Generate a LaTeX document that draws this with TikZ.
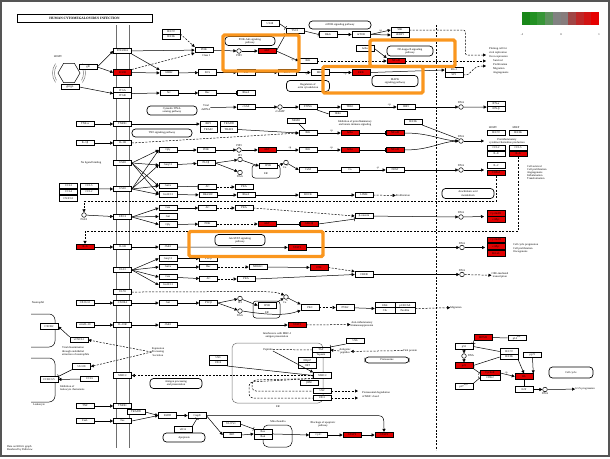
\documentclass[tikz,border=0pt]{standalone}
\usepackage{fontspec}
\setmainfont{Liberation Serif}
\usepackage{tikz}
\usetikzlibrary{positioning,arrows.meta,shapes.geometric,calc}
\definecolor{KeggRed}{RGB}{225,0,0}
\definecolor{HiOrange}{RGB}{250,150,30}
\definecolor{FrameGray}{RGB}{85,85,85}
\definecolor{MembGray}{RGB}{110,110,110}
\definecolor{LegA}{RGB}{25,135,25}
\definecolor{LegB}{RGB}{35,145,35}
\definecolor{LegC}{RGB}{55,150,55}
\definecolor{LegD}{RGB}{95,145,95}
\definecolor{LegE}{RGB}{130,130,130}
\definecolor{LegF}{RGB}{135,125,125}
\definecolor{LegG}{RGB}{160,70,70}
\definecolor{LegH}{RGB}{190,40,40}
\definecolor{LegI}{RGB}{210,20,20}
\definecolor{LegJ}{RGB}{230,0,0}
\newcommand{\gfont}{\fontsize{2.8}{3.2}\selectfont}

\begin{document}
\begin{tikzpicture}[x=1pt, y=-1pt,
    gene/.style={rectangle, draw=black, fill=white, line width=0.6pt,
                 minimum width=18pt, minimum height=5.5pt, inner sep=0pt, font=\gfont},
    hit/.style={gene, fill=KeggRed},
    pway/.style={rectangle, draw=black, fill=white, rounded corners=3.5pt, line width=0.7pt,
                 inner sep=0.5pt, align=center, font=\gfont},
    cpd/.style={circle, draw=black, fill=white, minimum size=4.6pt, inner sep=0pt, line width=0.5pt},
    note/.style={font=\gfont, inner sep=0pt, align=center},
    arrow/.style={-{Triangle[length=3pt, width=3pt]}, line width=0.5pt},
    darrow/.style={arrow, dash pattern=on 2pt off 1.4pt},
    dline/.style={line width=0.5pt, dash pattern=on 2pt off 1.4pt},
    inhib/.style={-{Bar[width=4pt]}, line width=0.5pt},
    plink/.style={line width=0.5pt},
    hilite/.style={draw=HiOrange, line width=3.2pt, rounded corners=1.5pt}
]
    \useasboundingbox (0,0) rectangle (610,458);
    \draw[FrameGray, line width=1.5pt] (1,1) rectangle (609,456);

    \node[draw, line width=0.6pt, minimum width=135pt, minimum height=8pt, inner sep=0pt,
          font=\fontsize{3.4}{4}\selectfont\bfseries] (title) at (84.5,18) {HUMAN CYTOMEGALOVIRUS INFECTION};

    \draw[MembGray, line width=0.6pt] (116,25) -- (116,448);
    \draw[MembGray, line width=0.6pt] (129,25) -- (129,448);
    \draw[dline, line width=0.6pt] (436,25) -- (436,450);

    \foreach \c [count=\i from 0] in {LegA,LegB,LegC,LegD,LegE,LegF,LegG,LegH,LegI,LegJ}
        \fill[\c] (522+7.7*\i,12) rectangle ++(7.7,13);
    \node[note] (legmin) at (522,35) {-1};
    \node[note] (legmid) at (561,35) {0};
    \node[note] (legmax) at (599,35) {1};

    \node[note] (hcmv) at (58,57) {HCMV};
    \node[regular polygon, regular polygon sides=6, draw, minimum size=22pt, inner sep=0pt,
          line width=0.5pt] (virion) at (69,73) {};
    \draw[MembGray, line width=0.45pt] (virion.center) ++(150:14.5) arc (150:210:14.5);
    \draw[MembGray, line width=0.45pt] (virion.center) ++(145:16.5) arc (145:215:16.5);
    \draw[MembGray, line width=0.45pt] (virion.center) ++(-30:14.5) arc (-30:30:14.5);
    \draw[MembGray, line width=0.45pt] (virion.center) ++(-35:16.5) arc (-35:35:16.5);

    \node[gene] (gB)     at (88,67)      {gB};
    \node[gene] (gHgL)   at (70,87)      {gH/gL};
    \node[gene] (pdgfra) at (122.5,51)   {PDGFRA};
    \node[hit]  (egfr)   at (122.5,72.5) {EGFR};
    \node[gene] (itga)   at (122.5,90.5) {ITGA};
    \node[gene] (itgb)   at (122.5,95.5) {ITGB};
    \node[gene] (ie72)   at (171,32)     {IE1/72};
    \node[gene] (ie86)   at (171,37)     {IE2/86};

    \node[gene] (pi3k)   at (204,50)     {PI3K};
    \node[note] (class1) at (206,55.5)   {Class I};
    \node[cpd, label={[note, label distance=0.4pt]below:PIP3}] (pip3) at (239,51) {};
    \node[hit]  (akt)    at (267,51)     {AKT};
    \node[pway, minimum width=50pt, minimum height=9pt] (pakt) at (250,41) {PI3K-Akt signaling\\pathway};
    \node[gene] (ul38)   at (270,23.5)   {UL38};
    \node[gene] (tsc2)   at (295,31)     {TSC2};
    \node[pway, minimum width=62pt, minimum height=8pt] (pmtor) at (340,25) {mTOR signaling pathway};
    \node[gene] (rheb)   at (328,34.5)   {Rheb};
    \node[gene] (mtor)   at (361,34.5)   {mTOR};
    \node[gene] (s6k)    at (400,30)     {S6K};
    \node[gene] (ebp1)   at (400,35)     {4EBP1};
    \node[gene] (ikkA)   at (308,61)     {IKK};
    \node[gene] (ikbaA)  at (365,48.5)   {IκBα};
    \node[pway, minimum width=46pt, minimum height=10pt] (pnfkb) at (410,51) {NF-kappa B signaling\\pathway};
    \node[hit]  (nfkbA)  at (396,61)     {NF-κB};

    \node[gene] (grb2)   at (169,73)     {GRB2};
    \node[gene] (sos)    at (207.5,72.5) {SOS};
    \node[gene] (ras)    at (246,72.5)   {Ras};
    \node[gene] (raf1)   at (287,72.5)   {Raf-1};
    \node[gene] (mek)    at (320,72.5)   {MEK};
    \node[hit]  (erk)    at (361,72.5)   {ERK};
    \node[pway, minimum width=46pt, minimum height=11pt] (pmapk) at (395,81) {MAPK\\signaling pathway};
    \node[gene] (elk1)   at (454,70)     {Elk-1};
    \node[gene] (sp1)    at (454,75)     {SP1};
    \node[gene] (src)    at (169,93)     {Src};
    \node[gene] (rac)    at (207.5,93)   {Rac};
    \node[gene] (rhoa)   at (246,93)     {RhoA};
    \node[pway, minimum width=43pt, minimum height=11pt] (pactin) at (308,86) {Regulation of\\actin cytoskeleton};
    \node[pway, minimum width=50pt, minimum height=9pt] (pcgas) at (172,110.5) {Cytosolic DNA-\\sensing pathway};

    \coordinate (primA) at (486,55);
    \coordinate (primB) at (486,61);
    \coordinate (primC) at (486,66);
    \node[note, align=left, anchor=north west, font=\fontsize{2.8}{4}\selectfont] (fate) at (489,47)
        {Priming cell for\\viral replication\\Over-expression\\\hspace*{4pt}Survival\\\hspace*{4pt}Proliferation\\\hspace*{4pt}Migration\\\hspace*{4pt}Angiogenesis};

    \node[note] (dsdna)  at (206,107.5)  {Viral\\dsDNA};
    \node[gene] (cgas)   at (246,107)    {cGAS};
    \node[cpd, label={[note, label distance=0.4pt]below:cGAMP}] (cgamp) at (280,107) {};
    \node[gene] (sting)  at (308,107)    {STING};
    \node[gene] (tbk1)   at (350,107)    {TBK1};
    \node[gene] (ikke)   at (338,114)    {IKKε};
    \node[gene] (irf3)   at (406,107)    {IRF3};
    \node[cpd, label={[note, label distance=0.4pt]above:DNA}] (dnaA) at (461,107) {};
    \node[gene] (ifna)   at (496,104)    {IFN-α};
    \node[gene] (ifnb)   at (496,109)    {IFN-β};

    \draw[arrow] (gB.east) -- (pdgfra.west);
    \draw[arrow] (gB.east) -- (egfr.west);
    \draw[arrow] (gHgL.east) -- (itga.south west);
    \draw[arrow] (pdgfra) -- (pi3k);
    \draw[darrow] (egfr.north east) -- (pi3k.south west);
    \draw[darrow] (ie86.north east) -- (pi3k.north west);
    \draw[arrow] (pi3k) -- (pip3);
    \draw[arrow] (pip3) -- (akt);
    \draw[inhib] (akt.east) -- (tsc2.south west);
    \draw[inhib] (ul38.east) -- (tsc2.north west);
    \draw[inhib] (tsc2.east) -- (rheb.west);
    \draw[arrow] (rheb) -- (mtor);
    \draw[arrow] (mtor.east) -- node[note, above=0.4pt, pos=0.5] {+p} (s6k.west);
    \draw[arrow] (mtor.east) -- (ebp1.west);
    \draw[arrow] (akt.east) -- node[note, below left=0.2pt, pos=0.8] {+p} (ikkA.west);
    \draw[darrow] (ikkA) -- (nfkbA);
    \draw[arrow] (ikbaA.east) -- (nfkbA.north west);
    \draw[darrow] (nfkbA.east) -- (primB);
    \draw[darrow, rounded corners=2pt] (s6k.east) -- ++(56,0) |- (primA);
    \draw[darrow] (sp1.east) .. controls (473,76) and (470,66) .. (primC);
    \draw[arrow] (egfr) -- (grb2);
    \draw[arrow] (pdgfra.south east) -- (grb2.north west);
    \draw[arrow] (grb2) -- (sos);
    \draw[arrow] (sos) -- (ras);
    \draw[arrow] (ras) -- (raf1);
    \draw[arrow] (raf1) -- node[note, below=0.6pt, pos=0.7] {+p} (mek);
    \draw[arrow] (mek) -- node[note, below=0.6pt, pos=0.7] {+p} (erk);
    \draw[arrow] (erk.east) -- (elk1.west);
    \draw[arrow] (itga.south east) -- (src.west);
    \draw[arrow] (src) -- (rac);
    \draw[inhib] (rac) -- (rhoa);
    \draw[arrow] (dsdna) -- (cgas);
    \draw[arrow] (cgas) -- (cgamp);
    \draw[arrow] (cgamp) -- (sting);
    \draw[arrow] (sting) -- (tbk1);
    \draw[plink] (sting.south east) -- (ikke.west);
    \draw[arrow] (tbk1) -- node[note, above=0.4pt, pos=0.8] {+p} (irf3);
    \draw[arrow] (irf3) -- (dnaA);
    \draw[arrow] (dnaA) -- (ifna.south west);

    \node[gene] (tnfa)   at (85,124)     {TNF-α};
    \node[gene] (tnfr1)  at (122.5,124)  {TNFR1};
    \node[gene, minimum width=17pt] (rip1)  at (208.5,124)   {RIP1};
    \node[gene, minimum width=17pt] (tradd) at (229,124)     {TRADD};
    \node[gene, minimum width=17pt] (traf2) at (208.5,129.5) {TRAF2};
    \node[gene, minimum width=17pt] (traf5) at (229,129.5)   {TRAF5};
    \node[pway, minimum width=60pt, minimum height=8pt] (ptnf) at (162,133) {TNF signaling pathway};
    \node[gene] (il1b)   at (85,143)     {IL-1β};
    \node[gene] (il1r)   at (122.5,143)  {IL-1R};
    \node[gene] (nemo)   at (296,121)    {NEMO};
    \node[gene] (ikkB)   at (308,133)    {IKK};
    \node[hit]  (ikbaB)  at (350,133)    {IκBα};
    \node[hit]  (nfkbB)  at (395,133)    {NF-κB};
    \node[note] (inhibtxt) at (355,123)  {Inhibition of proinflammatory\\and innate immune signaling};
    \node[gene] (ie86b)  at (413,122)    {IE2/86};

    \node[gene] (gq1)    at (168,150)    {Gβγ};
    \node[gene] (pi3kB)  at (206,150)    {PI3K};
    \node[cpd, label={[note, label distance=0.4pt]above:PIP3}] (pip3B) at (239,150) {};
    \node[hit]  (aktB)   at (267,150)    {AKT};
    \node[gene] (ikkC)   at (308,150)    {IKK};
    \node[hit]  (ikbaC)  at (350,150)    {IκBα};
    \node[hit]  (nfkbC)  at (395,150)    {NF-κB};
    \node[cpd, label={[note, label distance=0.4pt]above:DNA}] (dnaB) at (461,141) {};
    \coordinate (genesB) at (484,141);
    \node[note] (hcmvhdr) at (493,127.5) {HCMV};
    \node[note] (miephdr) at (516,127.5) {MIEP};
    \node[gene] (ie1n)   at (496,133)    {IE1/72};
    \node[gene] (ie2n)   at (518,133)    {IE2/86};
    \node[note] (proinf) at (507,141)    {Proinflammatory\\cytokine/chemokine production};
    \node[gene] (ccl2n)  at (496,148)    {CCL2};
    \node[gene] (ccl5n)  at (518,148)    {CCL5};
    \node[gene] (il8n)   at (496,154)    {IL-8};
    \node[hit]  (il6n)   at (518,154)    {IL-6};
    \node[note, align=left, anchor=north west] (survival) at (527,165)
        {Cell survival\\Cell proliferation\\Angiogenesis\\Inflammation\\Transformation};

    \draw[arrow] (tnfa) -- (tnfr1);
    \draw[arrow] (tnfr1) -- (rip1);
    \draw[arrow] (traf5.east) -- (ikkB.west);
    \draw[plink] (nemo) -- (ikkB);
    \draw[arrow] (il1b) -- (il1r);
    \draw[darrow] (il1r.east) -- (ikkB.west);
    \draw[arrow] (ikkB) -- node[note, above=0.4pt, pos=0.6] {+p} (ikbaB);
    \draw[inhib] (ikbaB) -- (nfkbB);
    \draw[arrow] (gq1) -- (pi3kB);
    \draw[arrow] (pi3kB) -- (pip3B);
    \draw[arrow] (pip3B) -- (aktB);
    \draw[arrow] (aktB) -- node[note, above=0.4pt, pos=0.6] {+p} (ikkC);
    \draw[arrow] (ikkC) -- node[note, above=0.4pt, pos=0.6] {+p} (ikbaC);
    \draw[inhib] (ikbaC) -- (nfkbC);
    \draw[arrow] (nfkbB.east) .. controls (430,133) and (440,140) .. (dnaB.west);
    \draw[arrow] (nfkbC.east) .. controls (430,150) and (440,142) .. (dnaB.west);
    \draw[plink] (ie86b.south east) -- (dnaB.north west);
    \draw[arrow] (dnaB) -- (genesB);

    \node[note] (noligand) at (91,163)   {No ligand binding};
    \node[gene] (us28a)  at (122.5,163)  {US28};
    \node[gene] (us28b)  at (122.5,189)  {US28};
    \node[gene] (ccl3)   at (68.5,186)   {CCL3};
    \node[gene] (ccl5)   at (89,186)     {CCL5};
    \node[gene] (ccl4)   at (68.5,192)   {CCL4};
    \node[gene] (ccl2)   at (89,192)     {CCL2};
    \node[gene] (cx3cl1) at (68.5,198.5) {CX3CL1};
    \node[gene] (gq2)    at (168,165)    {Gαq/11};
    \node[gene] (gi1)    at (168,186)    {Gαi/o};
    \node[gene] (g12)    at (168,194.5)  {Gα12/13};
    \node[gene] (plc1)   at (206,163)    {PLCβ};
    \node[cpd, label={[note, label distance=0.4pt]above:IP3}] (ip3A) at (240,159.5) {};
    \node[cpd, label={[note, label distance=0.4pt]below:DAG}] (dagA) at (240,172.5) {};
    \draw[plink, rounded corners=3pt] (252,165) rectangle (280,178);
    \node[gene] (ip3rA)  at (268,166)    {IP3R};
    \node[note] (erA)    at (266,174)    {ER};
    \node[cpd, label={[note, label distance=0.4pt]below:{Ca\textsuperscript{2+}}}] (caA) at (286,162.5) {};
    \node[gene] (cam)    at (308,170)    {CaM};
    \node[gene] (cn)     at (350,170)    {Cn};
    \node[gene] (nfat)   at (395,170)    {NFAT};
    \node[cpd, label={[note, label distance=0.4pt]above:DNA}] (dnaC) at (461,170) {};
    \coordinate (genesC) at (484,170);
    \node[gene] (il2)    at (496,165.5)  {IL-2};
    \node[hit]  (cox2)   at (496,173)    {COX-2};
    \node[pway, minimum width=52pt, minimum height=10pt] (parach) at (468,193.5) {Arachidonic acid\\metabolism};
    \node[gene] (ac1)    at (207.5,187)  {AC};
    \node[gene] (pka1)   at (244,187)    {PKA};
    \node[gene] (rhogef) at (208,195)    {RhoGEF};
    \node[gene] (rhoB)   at (246,195)    {RhoA};
    \node[gene] (rock)   at (308,195)    {ROCK};
    \node[gene] (limk)   at (364,195)    {LIMK};
    \node[note] (prolif) at (403,195.5)  {Proliferation};

    \foreach \g in {gq1,gq2,gi1,g12} {
        \draw[arrow] (us28a.east) -- (\g.west);
        \draw[arrow] (us28b.east) -- (\g.west);
    }
    \draw[arrow] (ccl2.north east) -- (us28b.west);
    \draw[arrow] (gq2) -- (plc1);
    \draw[arrow] (plc1.east) -- (ip3A);
    \draw[arrow] (plc1.east) -- (dagA);
    \draw[arrow] (ip3A) -- (ip3rA.west);
    \draw[arrow] (ip3rA.east) -- (caA);
    \draw[arrow] (caA) -- (cam.west);
    \draw[plink] (cam) -- (cn);
    \draw[arrow] (cn) -- node[note, above=0.4pt, pos=0.7] {-p} (nfat);
    \draw[arrow] (nfat) -- (dnaC);
    \draw[arrow] (dnaC) -- (genesC);
    \draw[inhib] (gi1) -- (ac1);
    \draw[darrow] (ac1) -- (pka1);
    \draw[arrow] (g12) -- (rhogef);
    \draw[arrow] (rhogef) -- (rhoB);
    \draw[arrow] (rhoB) -- (rock);
    \draw[arrow] (rock) -- (limk);
    \draw[darrow] (limk) -- (prolif);

    \node[cpd, label={[note, label distance=0.4pt]below:PGE2}] (pge2) at (84,215) {};
    \node[gene] (ep24)   at (122.5,217)  {EP2/4};
    \node[gene] (gsA)    at (168,208)    {Gαs};
    \node[gene] (giA)    at (168,216.5)  {Gαi};
    \node[gene] (gbgB)   at (168,224.5)  {Gβγ};
    \node[gene] (ac2)    at (207.5,208)  {AC};
    \node[gene] (pka2)   at (244,208)    {PKA};
    \node[gene] (ctnnb)  at (364,216)    {β-catenin};
    \node[gene] (pi3kC)  at (207.5,224)  {PI3K};
    \node[hit]  (aktC)   at (267,224)    {AKT};
    \node[hit]  (gsk)    at (309,224)    {GSK3β};
    \node[cpd, label={[note, label distance=0.4pt]above:DNA}] (dnaD) at (461,217) {};
    \coordinate (genesD) at (484,216.5);
    \node[hit]  (ccnd1)  at (496,213.5)  {CyclinD1};
    \node[hit]  (myc)    at (496,219.5)  {c-Myc};

    \draw[darrow] (cox2.south) -- ++(0,25.5) -| (pge2.north);
    \draw[arrow] (pge2) -- (ep24);
    \foreach \g in {gsA,giA,gbgB}
        \draw[arrow] (ep24.east) -- (\g.west);
    \draw[arrow] (gsA) -- (ac2);
    \draw[darrow] (ac2) -- (pka2);
    \draw[darrow] (pka2.east) -- (ctnnb.west);
    \draw[arrow] (gbgB) -- (pi3kC);
    \draw[darrow] (pi3kC) -- (aktC);
    \draw[inhib] (aktC) -- (gsk);
    \draw[inhib] (gsk.east) -- (ctnnb.south west);
    \draw[arrow] (ctnnb) -- (dnaD);
    \draw[arrow] (dnaD) -- (genesD);

    \node[hit]  (il6)    at (85,247)     {IL-6};
    \node[gene] (il6r)   at (122.5,247)  {IL-6R};
    \node[gene] (jak1)   at (168,247)    {JAK1};
    \node[pway, minimum width=50pt, minimum height=11pt] (pjak) at (240,240) {Jak-STAT signaling\\pathway};
    \node[hit]  (stat3)  at (297,247.5)  {STAT3};
    \node[cpd, label={[note, label distance=0.4pt]above:DNA}] (dnaE) at (462,247.5) {};
    \coordinate (genesE) at (485,247.5);
    \node[hit]  (ccnd1b) at (496,240)    {CyclinD1};
    \node[hit]  (mycb)   at (496,246.5)  {c-Myc};
    \node[hit]  (bclxl)  at (496,253.5)  {Bcl-xL};
    \node[note, align=left, anchor=west] (cycletxt) at (513,248.5) {Cell cycle progression\\Cell proliferation\\Oncogenesis};

    \draw[darrow] (il6n.south) -- ++(0,74.5) -| (il6.north);
    \draw[arrow] (il6) -- (il6r);
    \draw[arrow] (il6r) -- (jak1);
    \draw[arrow] (jak1) -- (stat3);
    \draw[arrow] (stat3) -- (dnaE);
    \draw[arrow] (dnaE) -- (genesE);

    \node[gene] (ul33)   at (122.5,270)  {UL33};
    \node[gene] (gqB)    at (168,258.5)  {Gαq/11};
    \node[gene] (giB)    at (168,267)    {Gαi/o};
    \node[gene] (gsB)    at (168,277)    {Gαs};
    \node[gene] (g12B)   at (168,285)    {Gα12/13};
    \node[gene] (plcB)   at (208.5,258.5) {PLCβ};
    \node[gene] (racB)   at (208.5,267)  {Rac};
    \node[gene] (mekk)   at (258,267)    {MEKK1};
    \node[hit]  (jnk)    at (319,267.5)  {JNK};
    \node[gene] (ac3)    at (208.5,279)  {AC};
    \node[gene] (pka3)   at (246,279)    {PKA};
    \node[gene] (creb)   at (364,274.5)  {CREB};
    \node[cpd, label={[note, label distance=0.4pt]above:DNA}] (dnaF) at (462,274.5) {};
    \node[note] (cre)    at (500,275.5)  {CRE-mediated\\transcription};

    \foreach \g in {gqB,giB,gsB,g12B}
        \draw[arrow] (ul33.east) -- (\g.west);
    \draw[arrow] (gqB) -- (plcB);
    \draw[arrow] (giB) -- (racB);
    \draw[darrow] (racB) -- (mekk);
    \draw[arrow] (mekk) -- (jnk);
    \draw[darrow] (jnk.east) -- (creb.north west);
    \draw[arrow] (gsB) -- (ac3);
    \draw[darrow] (ac3) -- (pka3);
    \draw[arrow] (pka3.east) -- (creb.west);
    \draw[arrow] (creb) -- (dnaF);
    \draw[darrow] (dnaF) -- (cre);

    \node[gene] (ul78)   at (122.5,292)  {UL78};
    \node[gene] (cxcl12) at (85,303)     {CXCL12};
    \node[gene] (cxcr4)  at (122.5,303)  {CXCR4};
    \node[gene] (giC)    at (168,303)    {Gαi};
    \node[gene] (plcC)   at (208.5,303)  {PLCβ};
    \node[cpd, label={[note, label distance=0.4pt]below:IP3}] (ip3B) at (240,298.5) {};
    \node[cpd, label={[note, label distance=0.4pt]below:DAG}] (dagB) at (240,311) {};
    \draw[plink, rounded corners=3pt] (253,301) rectangle (280,318);
    \node[gene] (ip3rB)  at (267,305.5)  {IP3R};
    \node[note] (erB)    at (267,313)    {ER};
    \node[cpd, label={[note, label distance=0.4pt]below:{Ca\textsuperscript{2+}}}] (caB) at (286,297) {};
    \node[gene] (pkc)    at (310,307.5)  {PKC};
    \node[gene] (pyk2)   at (345,307.5)  {PYK2};
    \node[gene, minimum width=20pt] (fak)  at (385,305.5) {FAK};
    \node[gene, minimum width=20pt] (p130) at (405,305.5) {p130CAS};
    \node[gene, minimum width=20pt] (crk)  at (385,310.5) {Crk};
    \node[gene, minimum width=20pt] (pax)  at (405,310.5) {Paxillin};
    \node[note] (migr)   at (456,307.5)  {Migration};

    \draw[darrow] (ul78.east) .. controls (255,292) and (272,290) .. (caB.north west);
    \draw[arrow] (cxcl12) -- (cxcr4);
    \draw[arrow] (cxcr4) -- (giC);
    \draw[arrow] (giC) -- (plcC);
    \draw[arrow] (plcC.east) -- (ip3B);
    \draw[arrow] (plcC.east) -- (dagB);
    \draw[arrow] (ip3B) -- (ip3rB.west);
    \draw[arrow] (ip3rB.north east) -- (caB);
    \draw[arrow] (caB) -- (pkc.north west);
    \draw[arrow] (dagB.east) .. controls (285,318) and (295,312) .. (pkc.south west);
    \draw[darrow] (pkc) -- (pyk2);
    \draw[arrow] (pyk2) -- (fak.south west);
    \draw[darrow] (p130.south east) -- (migr);

    \node[note] (neutro) at (38,302.5)   {Neutrophil};
    \draw[plink, rounded corners=6pt] (31,314) -- (55,314) -- (55,347) -- (31,347);
    \node[gene] (cxcr2)  at (49,326.5)   {CXCR2};
    \node[gene] (cmvil10) at (85,325)    {cmvIL-10};
    \node[gene] (il10r)  at (122.5,325)  {IL-10R};
    \node[gene] (jak1B)  at (168,325)    {JAK1};
    \node[hit]  (stat3B) at (297,325)    {STAT3};
    \node[note] (antiinf) at (362,324.5) {Anti-inflammatory\\Immunosuppression};
    \node[gene] (vcxcl1) at (79,340)     {vCXCL1};
    \node[note] (mhcinterf) at (277,335.5) {Interference with MHC-I\\antigen presentation};

    \draw[arrow] (cmvil10) -- (il10r);
    \draw[arrow] (il10r) -- (jak1B);
    \draw[arrow] (jak1B) -- (stat3B);
    \draw[darrow] (stat3B) -- (antiinf);
    \draw[arrow] (vcxcl1.north west) -- (cxcr2.east);

    \node[note, align=left, anchor=west] (dissem) at (62,351.5) {Viral dissemination\\through endothelial\\attraction of neutrophils};
    \node[note] (expr)   at (158,352)    {Expression\\Processing\\Secretion};
    \draw[plink, rounded corners=6pt] (31,358) -- (55,358) -- (55,402) -- (31,402);
    \node[gene] (ul128)  at (81.5,366.5) {UL128};
    \node[gene] (ccl5c)  at (89.5,379)   {CCL5};
    \node[gene] (ccr)    at (49,379.5)   {CCR1/3/5};
    \node[note, align=left, anchor=north west] (leuinh) at (60,385) {Inhibition of\\leukocyte chemotaxis};
    \node[note] (leuko)  at (39,405)     {Leukocyte};
    \node[gene] (mhc1)   at (122.5,375.5) {MHC-I};
    \node[pway, minimum width=52pt, minimum height=10pt] (pantigen) at (176,383.5) {Antigen processing\\and presentation};

    \draw[darrow] (expr.west) -- (vcxcl1.east);
    \draw[darrow] (expr.west) -- (ul128.east);
    \draw[arrow] (ccl5c) -- (ccr);
    \draw[inhib] (ul128.south west) -- (ccr.north east);

    \draw[plink, MembGray, rounded corners=5pt] (232,343) rectangle (323,403);
    \node[note] (ertxt)  at (278,406.5)  {ER};
    \node[gene] (us6)    at (355,341)    {US6};
    \node[note] (peptides) at (268,349.5) {Peptides};
    \node[gene] (tap)    at (321,350)    {TAP};
    \node[gene] (tapasin) at (321,355)   {Tapasin};
    \node[note] (antigenic) at (345,351.5) {Antigenic\\peptides};
    \node[note] (vprot)  at (410,350.5)  {Viral protein};
    \node[pway, minimum width=44pt, minimum height=6pt] (pprot) at (387,360) {Proteasome};
    \node[gene] (erp57)  at (307.5,360.5) {ERp57};
    \node[gene] (crt)    at (307.5,365.5) {CRT};
    \node[gene] (mhc2)   at (322.5,375.5) {MHC-I};
    \node[gene] (b2m)    at (309,383)    {β2M};
    \node[gene] (us2)    at (322,391)    {US2};
    \node[gene] (us11)   at (322,398)    {US11};
    \node[gene] (us3)    at (218,358)    {US3};
    \node[gene] (us10)   at (218,363)    {US10};
    \coordinate (degA) at (358,391);
    \coordinate (degB) at (358,398);
    \node[note, align=left, anchor=west] (degtxt) at (362,394.5) {Proteasomal degradation\\of MHC class I};

    \draw[dline] (peptides) -- (tap);
    \draw[arrow] (peptides.south east) -- (mhc2.north west);
    \draw[inhib] (us6.south west) -- (tap.north east);
    \draw[darrow] (antigenic) -- (tap.east);
    \draw[darrow] (vprot) -- (antigenic);
    \draw[inhib] (us10.south east) -- (mhc2.west);
    \draw[darrow] (mhc2.west) -- (mhc1.east);
    \draw[dline, rounded corners=4pt] (mhc2.south west) -- (252,380) -- (252,391) -- (us2.west);
    \draw[dline, rounded corners=4pt] (mhc2.south west) -- (249,382) -- (249,398) -- (us11.west);
    \draw[darrow] (us2.east) -- (degA);
    \draw[darrow] (us11.east) -- (degB);

    \node[gene] (tnfB)   at (85,406)     {TNF};
    \node[gene] (tnfrB)  at (122.5,406)  {TNFR1};
    \node[gene] (traddB) at (136,412)    {TRADD};
    \node[gene] (fasl)   at (85,421)     {FasL};
    \node[gene] (fas)    at (122.5,421)  {Fas};
    \node[gene] (fadd)   at (167.5,415.5) {FADD};
    \node[gene] (casp8)  at (197,415.5)  {Casp8};
    \node[gene] (vica)   at (183,429.5)  {vICA};
    \node[pway, minimum width=42pt, minimum height=9pt] (papop) at (184,437.5) {Apoptosis};
    \node[gene] (ul37)   at (231,424)    {UL37x1};
    \node[gene] (bid)    at (232,435)    {BID};
    \draw[plink, rounded corners=5pt] (263,425) rectangle (292,447);
    \node[note] (mitotxt) at (278,421.5) {Mitochondria};
    \node[gene] (bax)    at (263,432)    {Bax};
    \node[gene] (bak)    at (263,437)    {Bak};
    \node[note] (blocktxt) at (323,424.5) {Blockage of apoptotic\\pathway};
    \node[gene] (cytc)   at (318.5,435)  {CytC};
    \node[hit]  (casp9)  at (352,435)    {CASP9};
    \node[hit]  (casp3)  at (384,435)    {CASP3};

    \draw[arrow] (tnfB) -- (tnfrB);
    \draw[arrow] (fasl) -- (fas);
    \draw[arrow] (traddB.east) -- (fadd.west);
    \draw[arrow] (fas.east) -- (fadd.west);
    \draw[arrow] (fadd) -- (casp8);
    \draw[inhib] (vica.north east) -- (casp8.south);
    \draw[arrow] (casp8.east) -- (bid.west);
    \draw[arrow] (casp8.east) -- (372,415.5) .. controls (384,415.5) .. (casp3.north);
    \draw[inhib] (ul37.east) -- (bax.north west);
    \draw[arrow] (bid.east) -- (bak.north west);
    \draw[arrow] (bak.north east) -- (cytc.west);
    \draw[arrow] (cytc) -- (casp9);
    \draw[arrow] (casp9) -- (casp3);

    \node[note, align=left, anchor=north west] (credit) at (7,445) {Data on KEGG graph\\Rendered by Pathview};

    \node[hit]  (mdm2)   at (483,337.5)  {MDM2};
    \node[gene] (p14)    at (517,338)    {p14\textsuperscript{ARF}};
    \node[gene] (p53)    at (464,346.5)  {p53};
    \node[cpd, label={[note, label distance=1pt]right:DNA}] (dnaG) at (464,356) {};
    \node[hit]  (p21)    at (464,365.5)  {p21};
    \node[gene] (ie72c)  at (509,351.5)  {IE1/72};
    \node[gene] (ie86d)  at (509,357)    {IE2/86};
    \node[gene] (pp71)   at (532.5,355)  {pp71};
    \node[hit, minimum width=20pt]  (cyce) at (490,373)   {CyclinE};
    \node[gene, minimum width=20pt] (cdk2) at (490,378)   {CDK2};
    \node[hit]  (rb)     at (524,376.5)  {Rb};
    \node[gene] (p27)    at (464,386.5)  {p27\textsuperscript{Kip1}};
    \node[gene] (e2f)    at (524,389.5)  {E2F};
    \node[cpd, label={[note, label distance=0.4pt]below:DNA}] (dnaH) at (545,389.5) {};
    \node[note] (g1s)    at (585,389)    {G1/S progression};
    \node[pway, minimum width=44pt, minimum height=11pt] (pcycle) at (571,372.5) {Cell cycle};

    \draw[inhib] (p14) -- (mdm2);
    \draw[inhib] (mdm2.south west) -- (p53.north east);
    \draw[arrow] (p53) -- (dnaG);
    \draw[arrow] (dnaG) -- (p21);
    \draw[inhib] (ie72c.west) -- (p53.east);
    \draw[inhib] (ie86d.west) -- (p21.east);
    \draw[inhib] (p21.south east) -- (cyce.west);
    \draw[inhib] (p27.north east) -- (cdk2.west);
    \draw[arrow] (cyce.east) -- node[note, above=0.4pt, pos=0.4] {+p} (rb.west);
    \draw[arrow] (ie86d.south east) -- (rb.north);
    \draw[arrow] (pp71.south) -- (rb.north east);
    \draw[inhib] (rb) -- (e2f);
    \draw[arrow] (e2f) -- (dnaH);
    \draw[arrow] (dnaH) -- (g1s);

    \draw[hilite] (223,35) rectangle (299,71);
    \draw[hilite] (370,40) rectangle (455,66.5);
    \draw[hilite] (323,66.5) rectangle (423,93);
    \draw[hilite] (189,231.5) rectangle (323,256.5);
\end{tikzpicture}
\end{document}
